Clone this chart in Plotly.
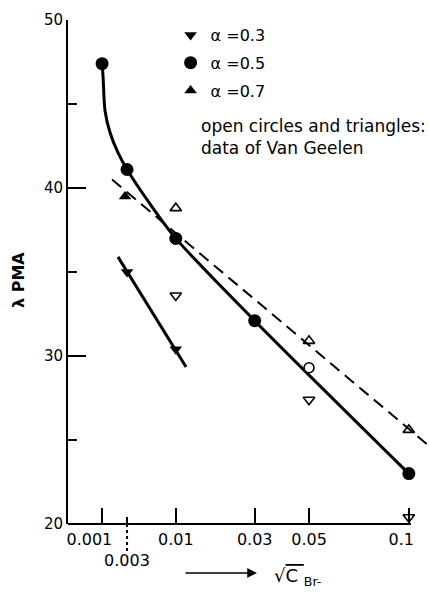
import numpy as np
import plotly.graph_objects as go

# ---- data (C_Br- concentrations, lambda PMA values) ----
a03_c = [0.003, 0.01]
a03_lam = [35.0, 30.4]
a03_line_c = [0.00215, 0.0120]
a03_line_lam = [35.9, 29.35]

a05_c = [0.001, 0.003, 0.01, 0.03, 0.1]
a05_lam = [47.4, 41.1, 37.0, 32.1, 23.0]
a05_curve_c = [0.001, 0.00106, 0.00118, 0.00152, 0.00215, 0.003, 0.00579, 0.01, 0.03, 0.1]
a05_curve_lam = [47.4, 46.6, 44.6, 43.3, 42.1, 41.1, 39.05, 37.0, 32.1, 23.0]

a07_c = [0.0028]
a07_lam = [39.5]

vg_circle_c = [0.05]
vg_circle_lam = [29.3]
vg_up_c = [0.01, 0.05, 0.1]
vg_up_lam = [38.8, 30.9, 25.6]
vg_down_c = [0.01, 0.05, 0.1]
vg_down_lam = [33.6, 27.4, 20.4]
vg_line_c = [0.00167, 0.1115]
vg_line_lam = [40.5, 24.7]

x_tick_c = [0.001, 0.01, 0.03, 0.05, 0.1]
x_tick_text = ["0.001", "0.01", "0.03", "0.05", "0.1"]
x_tick_pad = [5, 0, 0, 0, 3]          # trailing spaces, as in the original label placement
x_minor_c = [0.003]
x_minor_text = "0.003"
y_ticks = [20, 30, 40, 50]
y_minor = [25, 35, 45]

FONT = "DejaVu Sans"
sq = np.sqrt
NB = "\u00a0"

fig = go.Figure()

# lines
fig.add_trace(go.Scatter(x=sq(vg_line_c), y=vg_line_lam, mode="lines",
                         line=dict(color="black", width=2, dash="12px,7px"),
                         showlegend=False, hoverinfo="skip"))
fig.add_trace(go.Scatter(x=sq(a05_curve_c), y=a05_curve_lam, mode="lines",
                         line=dict(color="black", width=3, shape="spline", smoothing=0.8),
                         showlegend=False, hoverinfo="skip"))
fig.add_trace(go.Scatter(x=sq(a03_line_c), y=a03_line_lam, mode="lines",
                         line=dict(color="black", width=3),
                         showlegend=False, hoverinfo="skip"))

# open markers (Van Geelen)
fig.add_trace(go.Scatter(x=sq(vg_up_c), y=vg_up_lam, mode="markers",
                         marker=dict(symbol="triangle-up-open", size=10, color="black",
                                     line=dict(width=1.6)),
                         showlegend=False, cliponaxis=False))
fig.add_trace(go.Scatter(x=sq(vg_down_c), y=vg_down_lam, mode="markers",
                         marker=dict(symbol="triangle-down-open", size=10, color="black",
                                     line=dict(width=1.6)),
                         showlegend=False, cliponaxis=False))
fig.add_trace(go.Scatter(x=sq(vg_circle_c), y=vg_circle_lam, mode="markers",
                         marker=dict(symbol="circle", size=10, color="white",
                                     line=dict(width=1.6, color="black")),
                         showlegend=False, cliponaxis=False))

# filled markers
fig.add_trace(go.Scatter(x=sq(a03_c), y=a03_lam, mode="markers", name="α =0.3",
                         legendgroup="a", marker=dict(symbol="triangle-down", size=11, color="black")))
fig.add_trace(go.Scatter(x=sq(a05_c), y=a05_lam, mode="markers", name="α =0.5",
                         legendgroup="b", marker=dict(symbol="circle", size=13, color="black")))
fig.add_trace(go.Scatter(x=sq(a07_c), y=a07_lam, mode="markers", name="α =0.7",
                         legendgroup="c", marker=dict(symbol="triangle-up", size=11, color="black")))

fig.update_layout(
    width=429, height=594,
    margin=dict(l=68, r=1, t=20, b=70, autoexpand=False),
    plot_bgcolor="white", paper_bgcolor="white",
    font=dict(family=FONT, color="black", size=15),
    legend=dict(x=0.285, y=1.004, xanchor="left", yanchor="top",
                traceorder="grouped", tracegroupgap=4,
                font=dict(size=16), bgcolor="rgba(0,0,0,0)"),
    xaxis=dict(range=[0, 0.334], showgrid=False, zeroline=False, showline=False,
               automargin=False,
               tickvals=list(sq(x_tick_c)),
               ticktext=[t + NB * p for t, p in zip(x_tick_text, x_tick_pad)],
               ticks="inside", ticklen=16, tickwidth=2, tickcolor="black",
               tickfont=dict(size=16), ticklabelstandoff=4, ticklabeloverflow="allow",
               minor=dict(tickvals=list(sq(x_minor_c)), ticks="inside", ticklen=7,
                          tickwidth=2, tickcolor="black", showgrid=False)),
    yaxis=dict(range=[20, 50], showgrid=False, zeroline=False, showline=True,
               automargin=False,
               linewidth=2, linecolor="black",
               tickvals=y_ticks, ticks="inside", ticklen=18, tickwidth=2, tickcolor="black",
               tickfont=dict(size=15),
               minor=dict(tickvals=y_minor, ticks="inside", ticklen=9,
                          tickwidth=2, tickcolor="black", showgrid=False)),
    shapes=[
        dict(type="line", xref="x", yref="paper", x0=0, x1=sq(0.1) + 0.002, y0=0, y1=0,
             line=dict(color="black", width=2)),
        dict(type="line", xref="x", yref="paper", x0=sq(x_minor_c[0]), x1=sq(x_minor_c[0]),
             y0=0, y1=-0.056, line=dict(color="black", width=2, dash="dot")),
    ],
    annotations=[
        dict(text="open circles and triangles:<br>data of Van Geelen", xref="paper", yref="paper",
             x=(199 - 68) / 360, y=1 - (114 - 20) / 504, xanchor="left", yanchor="top",
             align="left", showarrow=False, font=dict(size=17)),
        dict(text="<b>λ PMA</b>", xref="paper", yref="paper", x=-0.139, y=0.484,
             xanchor="center", yanchor="middle",
             textangle=-90, showarrow=False, font=dict(size=16)),
        dict(text=x_minor_text, xref="x", yref="paper", x=sq(x_minor_c[0]), y=-0.0734,
             xanchor="center", yanchor="middle", showarrow=False, font=dict(size=16)),
        dict(text="", xref="paper", yref="paper", x=0.525, y=-0.0972, ax=-73, ay=0,
             showarrow=True, arrowhead=2, arrowsize=1.3, arrowwidth=1.5, arrowcolor="black"),
        dict(text="√<span style='text-decoration:overline'>C </span><sub>Br-</sub>",
             xref="paper", yref="paper", x=(272 - 68) / 360, y=-0.105, xanchor="left",
             yanchor="middle", showarrow=False, font=dict(size=18)),
    ],
)

fig.write_html("out.html", config={"displayModeBar": False},
               post_script="document.body.style.margin='0';")
